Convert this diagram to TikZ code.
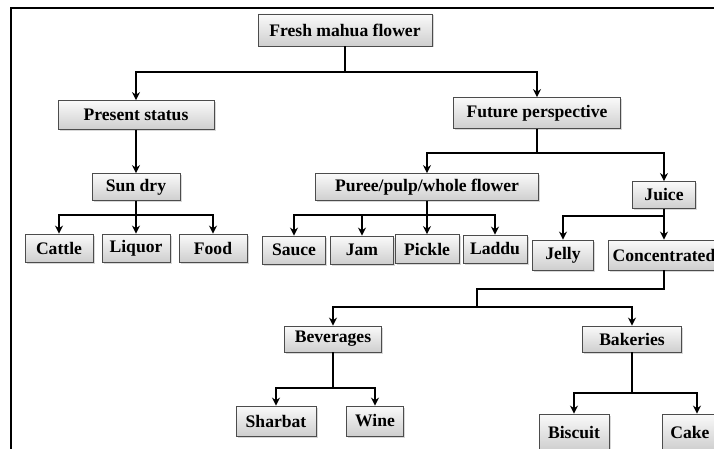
\documentclass[tikz,border=0pt]{standalone}
\usepackage{fontspec}
\setmainfont{Liberation Serif}
\usetikzlibrary{arrows.meta,shadows}

\begin{document}
\begin{tikzpicture}[x=1pt,y=-1pt,
  box/.style={draw=gray!60!black,line width=0.8pt,top color=gray!4,bottom color=gray!38,
    drop shadow={opacity=0.3,shadow xshift=1.5pt,shadow yshift=-1.5pt},
    inner sep=0pt,font=\fontsize{17.6}{19}\selectfont\bfseries},
  link/.style={line width=1.8pt},
  arr/.style={link,-{Stealth[length=8pt,width=8pt]}}]
  \clip (0,0) rectangle (714,449);
  \fill[white] (0,0) rectangle (714,449);
  \draw[line width=2pt] (11,460) -- (11,8) -- (730,8);
  \node[box,minimum width=174,minimum height=32] (fresh) at (345,30) {Fresh mahua flower};
  \node[box,minimum width=156,minimum height=29] (present) at (136,115) {Present status};
  \node[box,minimum width=167,minimum height=31] (future) at (537,113) {Future perspective};
  \node[box,minimum width=88,minimum height=27] (sundry) at (136,187) {Sun dry};
  \node[box,minimum width=68,minimum height=28] (cattle) at (59,248) {Cattle};
  \node[box,minimum width=68,minimum height=28] (liquor) at (136,248) {Liquor};
  \node[box,minimum width=68,minimum height=28] (food) at (213,248) {Food};
  \node[box,minimum width=223,minimum height=27] (puree) at (427,187) {Puree/pulp/whole flower};
  \node[box,minimum width=63,minimum height=28] (sauce) at (294,250) {Sauce};
  \node[box,minimum width=63,minimum height=28] (jam) at (362,250) {Jam};
  \node[box,minimum width=64,minimum height=29] (pickle) at (427,249) {Pickle};
  \node[box,minimum width=64,minimum height=28] (laddu) at (495,249) {Laddu};
  \node[box,minimum width=63,minimum height=27] (juice) at (664,195) {Juice};
  \node[box,minimum width=61,minimum height=30] (jelly) at (563,255) {Jelly};
  \node[box,minimum width=112,minimum height=30] (conc) at (664,255) {Concentrated};
  \node[box,minimum width=97,minimum height=26] (bev) at (333,339) {Beverages};
  \node[box,minimum width=99,minimum height=26] (bak) at (632,339) {Bakeries};
  \node[box,minimum width=80,minimum height=30] (sharbat) at (276,421) {Sharbat};
  \node[box,minimum width=57,minimum height=30] (wine) at (375,421) {Wine};
  \node[box,minimum width=70,minimum height=36] (biscuit) at (574,432) {Biscuit};
  \node[box,minimum width=70,minimum height=36] (cake) at (697,432) {Cake\hspace*{14pt}};
  % junctions
  \coordinate (j1) at (345,72);
  \coordinate (j3) at (136,215);
  \coordinate (j4) at (537,153);
  \coordinate (j5) at (427,215);
  \coordinate (j6) at (664,216);
  \coordinate (k1) at (664,289);
  \coordinate (k2) at (477,289);
  \coordinate (j7) at (477,307);
  \coordinate (j8) at (333,388);
  \coordinate (j9) at (632,393);
  \draw[link] (fresh) -- (j1);
  \draw[arr] (j1) -| (present);
  \draw[arr] (j1) -| (future);
  \draw[arr] (present) -- (sundry);
  \draw[link] (sundry) -- (j3);
  \draw[arr] (j3) -| (cattle);
  \draw[arr] (j3) -| (liquor);
  \draw[arr] (j3) -| (food);
  \draw[link] (future) -- (j4);
  \draw[arr] (j4) -| (puree);
  \draw[arr] (j4) -| (juice);
  \draw[link] (puree) -- (j5);
  \draw[arr] (j5) -| (sauce);
  \draw[arr] (j5) -| (jam);
  \draw[arr] (j5) -| (pickle);
  \draw[arr] (j5) -| (laddu);
  \draw[link] (juice) -- (j6);
  \draw[arr] (j6) -| (jelly);
  \draw[arr] (j6) -| (conc);
  \draw[link] (conc) -- (k1) -- (k2) -- (j7);
  \draw[arr] (j7) -| (bev);
  \draw[arr] (j7) -| (bak);
  \draw[link] (bev) -- (j8);
  \draw[arr] (j8) -| (sharbat);
  \draw[arr] (j8) -| (wine);
  \draw[link] (bak) -- (j9);
  \draw[arr] (j9) -| (biscuit);
  \draw[arr] (j9) -| (cake);
\end{tikzpicture}
\end{document}
